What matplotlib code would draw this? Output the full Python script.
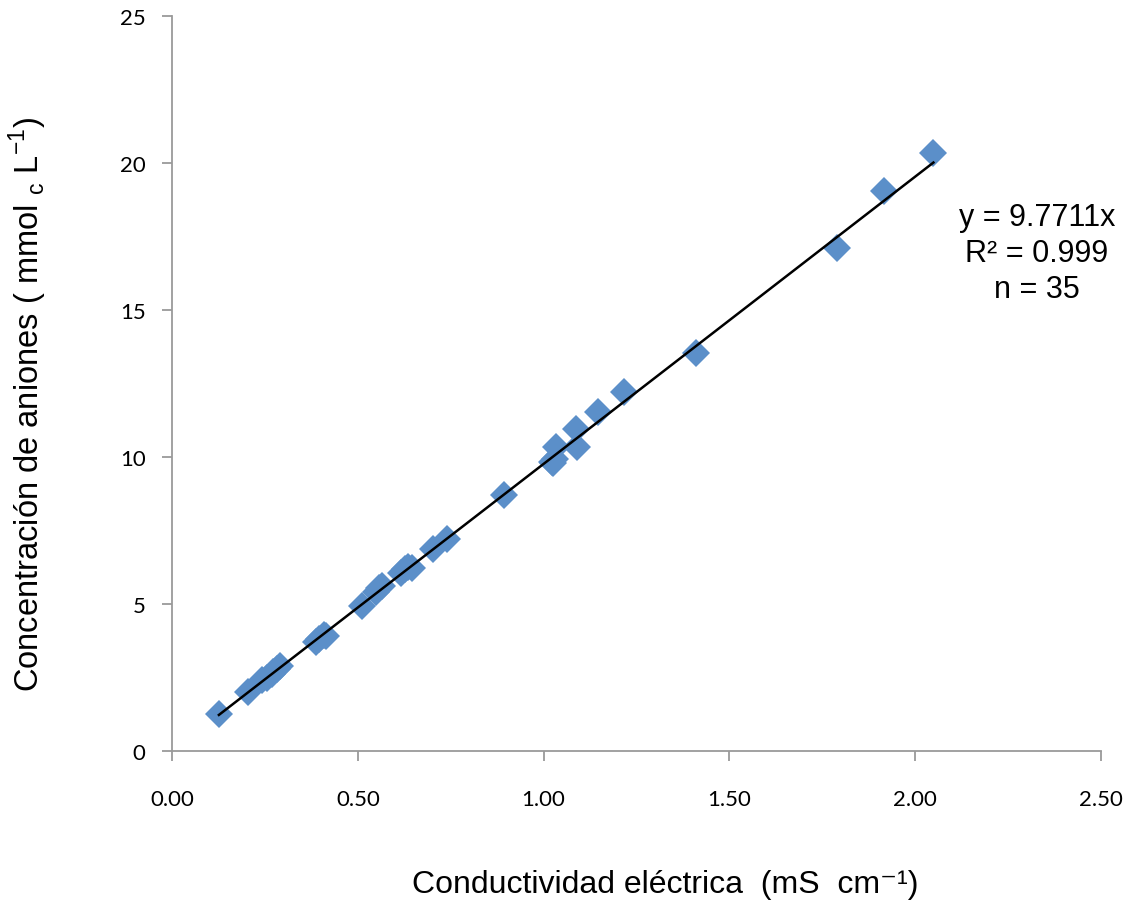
import matplotlib
matplotlib.use("Agg")
import matplotlib.pyplot as plt
import numpy as np

# Electrical conductivity (mS cm^-1) and anion concentration (mmol_c L^-1)
conductividad = [0.126, 0.204, 0.241, 0.255, 0.268, 0.272, 0.282, 0.290,
                 0.388, 0.395, 0.410, 0.415, 0.512, 0.548, 0.558, 0.565,
                 0.617, 0.628, 0.636, 0.645, 0.703, 0.741, 0.893, 1.022,
                 1.026, 1.030, 1.033, 1.087, 1.089, 1.147, 1.216, 1.409,
                 1.789, 1.917, 2.049]
aniones = [1.26, 2.02, 2.42, 2.50, 2.62, 2.70, 2.80, 2.88,
           3.72, 3.80, 3.96, 3.92, 4.92, 5.42, 5.55, 5.60,
           6.06, 6.18, 6.28, 6.22, 6.88, 7.20, 8.71, 9.85,
           9.80, 9.92, 10.33, 10.95, 10.33, 11.52, 12.22, 13.54,
           17.13, 19.04, 20.36]

pendiente = 9.7711
r2 = 0.999
n_obs = 35

x_ticks = [0.0, 0.5, 1.0, 1.5, 2.0, 2.5]
y_ticks = [0, 5, 10, 15, 20, 25]

fig = plt.figure(figsize=(11.32, 9.04), dpi=100)
ax = fig.add_axes([0.152, 0.168, 0.8206, 0.813])

ax.plot(conductividad, aniones, linestyle="none", marker="D",
        markersize=14, color="#5B8FC9", markeredgewidth=0, zorder=2)

# Linear trendline forced through the origin
xl = np.array([min(conductividad), max(conductividad)])
ax.plot(xl, pendiente * xl, color="black", linewidth=1.8, zorder=3)

ax.set_xlim(0, 2.5)
ax.set_ylim(0, 25)
ax.set_xticks(x_ticks)
ax.set_xticklabels([f"{v:.2f}" for v in x_ticks])
ax.set_yticks(y_ticks)
ax.set_yticklabels([str(v) for v in y_ticks])

for side in ("top", "right"):
    ax.spines[side].set_visible(False)
for side in ("left", "bottom"):
    ax.spines[side].set_color("#9A9A9A")
    ax.spines[side].set_linewidth(1.3)

ax.tick_params(axis="both", direction="out", length=7, width=1.3,
               color="#9A9A9A", labelsize=16, labelcolor="black")
ax.tick_params(axis="x", pad=20)
ax.tick_params(axis="y", pad=12)
for lab in ax.get_xticklabels() + ax.get_yticklabels():
    lab.set_family(["Lato", "DejaVu Sans"])

fam = ["Liberation Sans", "DejaVu Sans"]
fig.text(0.588, 0.021, "Conductividad eléctrica  (mS  cm⁻¹)",
         ha="center", va="center", fontsize=23, family=fam)
fig.text(0.025, 0.552,
         r"Concentración de aniones ( mmol $_{\mathregular{c}}$ L$^{\mathregular{-1}}$)",
         ha="center", va="center", rotation=90, fontsize=23.5, family=fam)

ax.text(0.916, 0.719, f"y = {pendiente}x\nR² = {r2}\nn = {n_obs}",
        transform=fig.transFigure, ha="center", va="center",
        fontsize=22, family=fam, linespacing=1.25)

fig.savefig("out.png", dpi=100, facecolor="white")
